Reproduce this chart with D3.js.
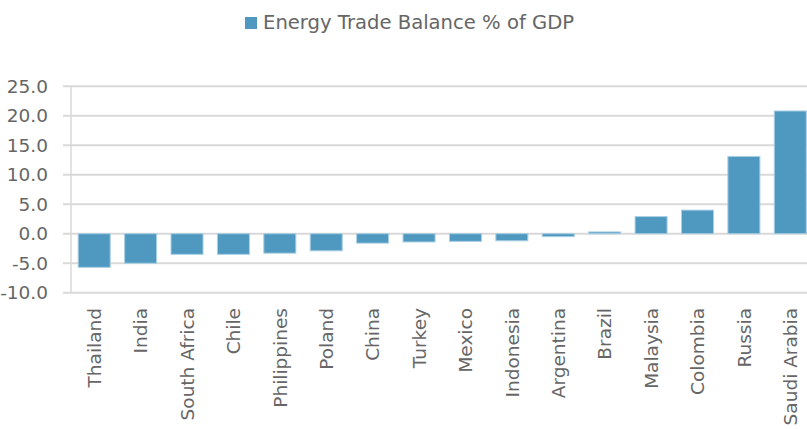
<html>
<head>
<meta charset="utf-8">
<script src="https://d3js.org/d3.v7.min.js"></script>
<style>
body { margin: 0; background: #fff; }
text { font-family: 'DejaVu Sans', sans-serif; fill: #666; }
</style>
</head>
<body>
<div id="chart"></div>
<script>
var countries = ["Thailand", "India", "South Africa", "Chile", "Philippines", "Poland", "China", "Turkey",
  "Mexico", "Indonesia", "Argentina", "Brazil", "Malaysia", "Colombia", "Russia", "Saudi Arabia"];
var balance = [-5.7, -5.0, -3.5, -3.5, -3.3, -2.9, -1.6, -1.4, -1.3, -1.2, -0.5, 0.3, 2.9, 4.0, 13.1, 20.8];
var yTicks = [-10, -5, 0, 5, 10, 15, 20, 25];
var seriesName = "Energy Trade Balance % of GDP";

var W = 807, H = 429;
var svg = d3.select("#chart").append("svg").attr("width", W).attr("height", H);

var x = d3.scaleBand()
    .domain(countries)
    .range([71, 813.5])
    .paddingInner(0.31)
    .paddingOuter(0.155);

var y = d3.scaleLinear().domain([-10, 25]).range([292.7, 86.2]);

// gridlines
svg.append("g").selectAll("line")
  .data(yTicks).enter().append("line")
  .attr("x1", 63).attr("x2", W)
  .attr("y1", function(d) { return y(d); })
  .attr("y2", function(d) { return y(d); })
  .attr("stroke", "#d9d9d9").attr("stroke-width", 2);

// vertical axis line
svg.append("line")
  .attr("x1", 71).attr("x2", 71)
  .attr("y1", y(25)).attr("y2", y(-10))
  .attr("stroke", "#d9d9d9").attr("stroke-width", 1.5);

// y labels (plain hyphen for negatives)
svg.append("g").selectAll("text")
  .data(yTicks).enter().append("text")
  .attr("x", 48)
  .attr("y", function(d) { return y(d); })
  .attr("dy", "0.36em")
  .style("text-anchor", "end")
  .style("font-size", "18.5px")
  .text(function(d) { return d3.format(".1f")(d).replace("\u2212", "-"); });

// bars
svg.append("g").selectAll("rect")
  .data(balance).enter().append("rect")
  .attr("x", function(d, i) { return x(countries[i]); })
  .attr("width", x.bandwidth())
  .attr("y", function(d) { return y(Math.max(0, d)); })
  .attr("height", function(d) { return Math.abs(y(d) - y(0)); })
  .attr("fill", "#4f99c1")
  .attr("stroke", "#a9cfe3").attr("stroke-width", 1);

// x labels
svg.append("g").selectAll("text")
  .data(countries).enter().append("text")
  .attr("transform", function(d) {
    return "translate(" + (x(d) + x.bandwidth() / 2) + ",308) rotate(-90)";
  })
  .attr("dy", "0.36em")
  .style("text-anchor", "end")
  .style("font-size", "18.5px")
  .text(function(d) { return d; });

// legend
svg.append("rect")
  .attr("x", 245).attr("y", 17).attr("width", 12).attr("height", 12)
  .attr("fill", "#4f99c1");
svg.append("text")
  .attr("x", 263).attr("y", 29)
  .style("font-size", "19.6px")
  .text(seriesName);
</script>
</body>
</html>
